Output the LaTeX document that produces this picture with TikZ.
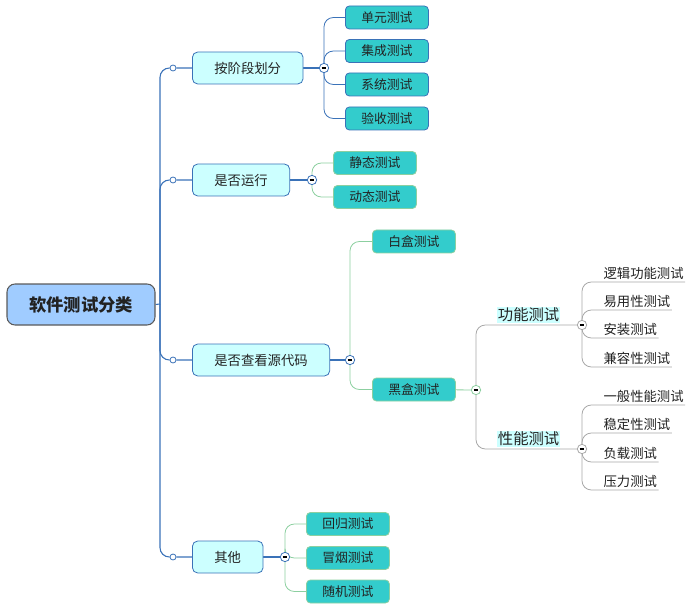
\documentclass[tikz,border=0pt]{standalone}
\usepackage{fontspec}
\setmainfont{Noto Sans CJK SC}
\usetikzlibrary{positioning, backgrounds}

\definecolor{rootfill}{HTML}{A0CCFF}
\definecolor{rootline}{HTML}{5A5A5A}
\definecolor{branchfill}{HTML}{CCFFFF}
\definecolor{blueline}{HTML}{3A72B8}
\definecolor{greenline}{HTML}{8CCFA0}
\definecolor{grayline}{HTML}{A8A8A8}
\definecolor{topicfill}{HTML}{33CCCC}
\definecolor{darktext}{HTML}{222222}

\tikzset{
    root/.style={draw=rootline, fill=rootfill, rounded corners=6pt, line width=0.8pt,
        minimum width=111pt, minimum height=30.75pt, text=darktext,
        font=\fontsize{13}{15}\selectfont\bfseries},
    branch/.style={draw=blueline, fill=branchfill, rounded corners=4pt, line width=0.6pt,
        anchor=west, minimum height=24pt, inner xsep=16.5pt, text=darktext,
        font=\fontsize{10}{12}\selectfont},
    topic/.style={draw=#1, fill=topicfill, rounded corners=3pt, line width=0.6pt,
        anchor=west, minimum width=62.25pt, minimum height=17.25pt, inner sep=0pt,
        text=darktext, font=\fontsize{9.6}{11}\selectfont},
    topic/.default=greenline,
    heading/.style={fill=branchfill, anchor=south west, inner xsep=0.5pt, inner ysep=1pt,
        text height=0.88em, text depth=0.12em, text=darktext,
        font=\fontsize{11.5}{13}\selectfont},
    leaf/.style={anchor=south west, inner xsep=1pt, inner ysep=1.6pt,
        text height=0.88em, text depth=0.12em, text=darktext,
        font=\fontsize{10}{12}\selectfont},
    hinge/.style={circle, draw=blueline, fill=white, line width=0.6pt,
        inner sep=0pt, minimum size=4.5pt},
    fold/.style={circle, draw=#1, fill=white, line width=0.6pt,
        inner sep=0pt, minimum size=7pt,
        path picture={\draw[black, line width=0.9pt]
            ([xshift=-1.8pt]path picture bounding box.center) --
            ([xshift=1.8pt]path picture bounding box.center);}},
    fold/.default=blueline,
    link/.style={draw=#1, line width=0.8pt, rounded corners=7pt},
    link/.default=blueline,
}

\begin{document}
\begin{tikzpicture}[x=0.75pt, y=-0.75pt]
    \useasboundingbox (0,0) rectangle (691,609);

    % root and first level
    \node[root] (root) at (81,304.5) {软件测试分类};
    \coordinate (trunk) at (160,304);

    \node[hinge] (h1) at (173,68) {};
    \node[hinge] (h2) at (173,180) {};
    \node[hinge] (h3) at (173,360) {};
    \node[hinge] (h4) at (173,557) {};

    \node[branch] (stage) at (192,68) {按阶段划分};
    \node[branch] (run) at (192,180) {是否运行};
    \node[branch] (source) at (192,360) {是否查看源代码};
    \node[branch] (other) at (192,557) {其他};

    \node[fold] (fstage) at (324,68) {};
    \node[fold] (frun) at (312,180) {};
    \node[fold] (fsource) at (350,360) {};
    \node[fold] (fother) at (285,557) {};

    % second level
    \node[topic=blueline] (unit) at (345,17.5) {单元测试};
    \node[topic=blueline] (integ) at (345,51) {集成测试};
    \node[topic=blueline] (system) at (345,84.5) {系统测试};
    \node[topic=blueline] (accept) at (345,118.5) {验收测试};

    \node[topic] (static) at (333,163) {静态测试};
    \node[topic] (dynamic) at (333,197) {动态测试};

    \node[topic] (white) at (372,241.5) {白盒测试};
    \node[topic] (black) at (372,389.5) {黑盒测试};

    \node[topic] (regress) at (306,524) {回归测试};
    \node[topic] (smoke) at (306,558) {冒烟测试};
    \node[topic] (random) at (306,591.5) {随机测试};

    % black box subtree
    \node[fold=greenline] (fblack) at (476,390) {};
    \node[heading] (func) at (497,323.5) {功能测试};
    \node[heading] (perf) at (497,447.5) {性能测试};
    \node[fold=grayline] (ffunc) at (582,325) {};
    \node[fold=grayline] (fperf) at (582,449) {};

    \node[leaf] (logic) at (602,282) {逻辑功能测试};
    \node[leaf] (usable) at (602,310) {易用性测试};
    \node[leaf] (install) at (602,338) {安装测试};
    \node[leaf] (compat) at (602,367) {兼容性测试};

    \node[leaf] (general) at (602,405) {一般性能测试};
    \node[leaf] (stable) at (602,433) {稳定性测试};
    \node[leaf] (load) at (602,462) {负载测试};
    \node[leaf] (stress) at (602,490) {压力测试};

    \begin{scope}[on background layer]
        \draw[link] (root.east) -- (trunk);
        \foreach \h/\b in {h1/stage, h2/run, h3/source, h4/other}
            \draw[link] (trunk) |- (\h) -- (\b);
        \foreach \b/\f in {stage/fstage, run/frun, source/fsource, other/fother}
            \draw[link] (\b) -- (\f);

        \foreach \t in {unit, integ, system, accept}
            \draw[link, line width=0.6pt] (fstage.center) |- (\t.west);
        \foreach \f/\t in {frun/static, frun/dynamic, fsource/white, fsource/black,
                fother/regress, fother/smoke, fother/random}
            \draw[link=greenline, line width=0.6pt] (\f.center) |- (\t.west);

        \draw[link=greenline, line width=0.6pt] (black) -- (fblack);
        \draw[link=grayline, line width=0.6pt] (fblack.center) |- (ffunc);
        \draw[link=grayline, line width=0.6pt] (fblack.center) |- (fperf);
        \foreach \t in {logic, usable, install, compat}
            \draw[link=grayline, line width=0.6pt] (ffunc.center) |- (\t.south east);
        \foreach \t in {general, stable, load, stress}
            \draw[link=grayline, line width=0.6pt] (fperf.center) |- (\t.south east);
    \end{scope}
\end{tikzpicture}
\end{document}
